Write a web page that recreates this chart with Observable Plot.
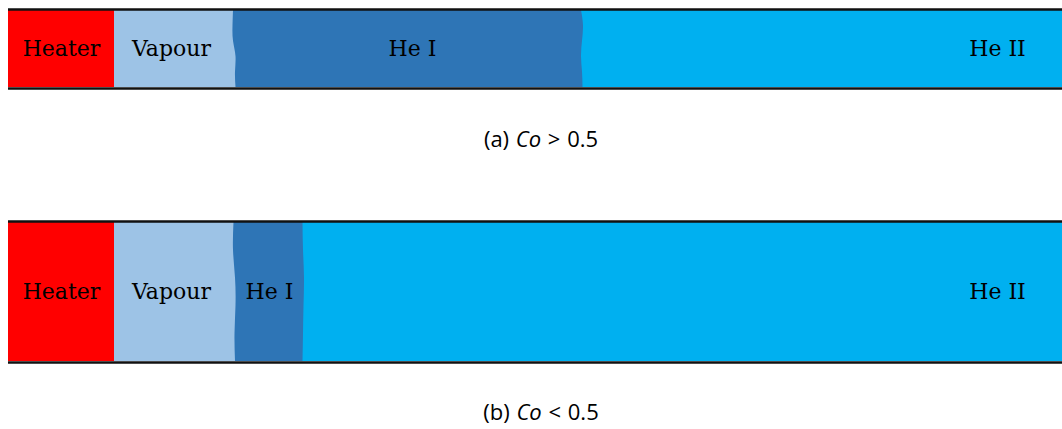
<!DOCTYPE html>
<html><head><meta charset="utf-8">
<script src="https://cdn.jsdelivr.net/npm/d3@7"></script>
<script src="https://cdn.jsdelivr.net/npm/@observablehq/plot@0.6"></script>
<style>
body{margin:0;background:#fff;}
#fig{position:relative;width:1062px;height:429px;overflow:hidden;background:#fff;}
.panel{position:absolute;left:0;}
.panel svg{display:block;}
.cap{position:absolute;left:20px;width:1042px;height:28px;line-height:28px;text-align:center;font-family:"Open Sans",sans-serif;font-size:22px;color:#000;white-space:pre;word-spacing:1px;}
.cap i{font-style:italic;}
</style></head><body><div id="fig"></div>
<script>
// Regions along the channel, left to right
const regions = ["Heater", "Vapour", "He I", "He II"];
const regionColors = ["#ff0000", "#9dc3e6", "#2e75b6", "#00b0f0"];
// fraction of the bar height (top -> bottom) where boundary positions were read
const profileY = [0, 0.2, 0.4, 0.6, 0.8, 1];
// left boundary of each region, read along the bar height; panel (a) Co > 0.5
const startsA = [
  [8, 8, 8, 8, 8, 8],
  [114, 114, 114, 114, 114, 114],
  [233, 232.5, 233, 235.5, 235, 235.5],
  [581, 583, 582, 581, 582, 582.5]
];
// panel (b) Co < 0.5
const startsB = [
  [8, 8, 8, 8, 8, 8],
  [114, 114, 114, 114, 114, 114],
  [233.5, 233, 235, 235.5, 234.5, 235],
  [302.5, 303, 304, 303.5, 303, 302.5]
];
const channelEnd = 1062;
const labelXA = [61, 171, 412, 997];
const labelXB = [61, 171, 269, 997];
const captionA = ["(a) ", "Co", " > 0.5"];
const captionB = ["(b) ", "Co", " < 0.5"];

function panel(starts, labelX, height) {
  const rows = [];
  regions.forEach((r, i) => profileY.forEach((f, k) =>
    rows.push({region: r, f, x1: starts[i][k], x2: channelEnd})));
  const labels = regions.map((r, i) => ({region: r, x: labelX[i], f: 0.5}));
  return Plot.plot({
    width: 1062, height,
    marginTop: 10, marginBottom: 11, marginLeft: 0, marginRight: 0,
    x: {domain: [0, 1062], axis: null},
    y: {domain: [0, 1], reverse: true, axis: null},
    color: {domain: regions, range: regionColors},
    style: {background: "transparent", overflow: "visible"},
    marks: [
      Plot.areaX(rows, {y: "f", x1: "x1", x2: "x2", fill: "region", z: "region", curve: "natural"}),
      Plot.ruleY([0], {x1: 8, x2: channelEnd, stroke: "#111", strokeWidth: 2.5, dy: -1}),
      Plot.ruleY([1], {x1: 8, x2: channelEnd, stroke: "#111", strokeWidth: 2.5, dy: 1}),
      Plot.text(labels, {x: "x", y: "f", text: "region", fill: "#000",
        fontFamily: "DejaVu Serif", fontSize: 22})
    ]
  });
}

function caption(parts, top) {
  const d = document.createElement("div");
  d.className = "cap";
  d.style.top = top + "px";
  d.append(parts[0]);
  const i = document.createElement("i");
  i.textContent = parts[1];
  d.append(i, parts[2]);
  return d;
}

const fig = document.getElementById("fig");
const pa = document.createElement("div"); pa.className = "panel"; pa.style.top = "0px";
pa.append(panel(startsA, labelXA, 98));
const pb = document.createElement("div"); pb.className = "panel"; pb.style.top = "212px";
pb.append(panel(startsB, labelXB, 160));
fig.append(pa, caption(captionA, 124), pb, caption(captionB, 397));
</script></body></html>
